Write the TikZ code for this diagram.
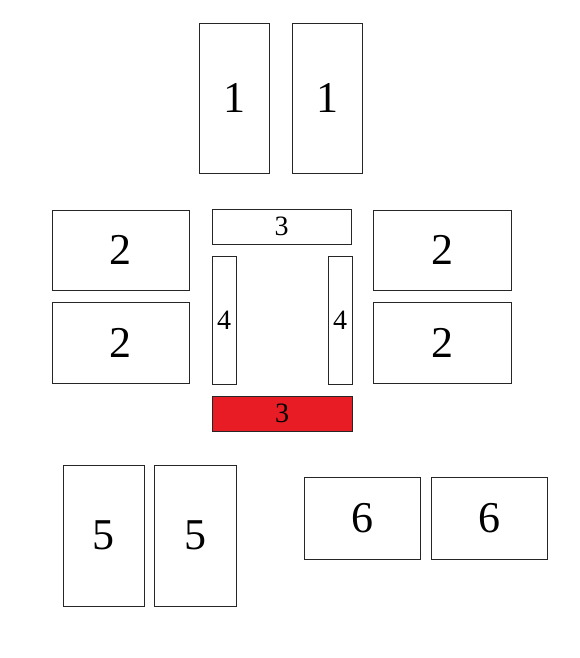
\documentclass[tikz,border=0pt]{standalone}
\usepackage{fontspec}
\setmainfont{Liberation Serif}
\usetikzlibrary{positioning}

\definecolor{hotred}{RGB}{232,28,36}

\begin{document}
\begin{tikzpicture}[
    x=1pt, y=-1pt,
    block/.style={rectangle, draw=black!85, line width=0.8pt, inner sep=0pt, outer sep=0pt, align=center},
    bignum/.style={block, font=\fontsize{44}{44}\selectfont},
    smallnum/.style={block, font=\fontsize{28}{28}\selectfont},
]
\useasboundingbox (0,0) rectangle (579,658);

% Top pair
\node[bignum, minimum width=70pt, minimum height=150pt] (one_a) at (234,98) {1};
\node[bignum, minimum width=70pt, minimum height=150pt] (one_b) at (327,98) {1};

% Left column
\node[bignum, minimum width=137pt, minimum height=80pt] (two_tl) at (120.5,250) {2};
\node[bignum, minimum width=137pt, minimum height=81pt] (two_bl) at (120.5,342.5) {2};

% Centre frame
\node[smallnum, minimum width=139pt, minimum height=35pt] (three_top) at (281.5,226.5) {3};
\node[smallnum, minimum width=24pt, minimum height=128pt] (four_l) at (224,320) {4};
\node[smallnum, minimum width=24pt, minimum height=128pt] (four_r) at (340,320) {4};
\node[smallnum, fill=hotred, minimum width=140pt, minimum height=35pt] (three_red) at (282,413.5) {3};

% Right column
\node[bignum, minimum width=138pt, minimum height=80pt] (two_tr) at (442,250) {2};
\node[bignum, minimum width=138pt, minimum height=81pt] (two_br) at (442,342.5) {2};

% Bottom row
\node[bignum, minimum width=81pt, minimum height=141pt] (five_a) at (103.5,535.5) {5};
\node[bignum, minimum width=82pt, minimum height=141pt] (five_b) at (195,535.5) {5};
\node[bignum, minimum width=116pt, minimum height=82pt] (six_a) at (362,518) {6};
\node[bignum, minimum width=116pt, minimum height=82pt] (six_b) at (489,518) {6};

\end{tikzpicture}
\end{document}
